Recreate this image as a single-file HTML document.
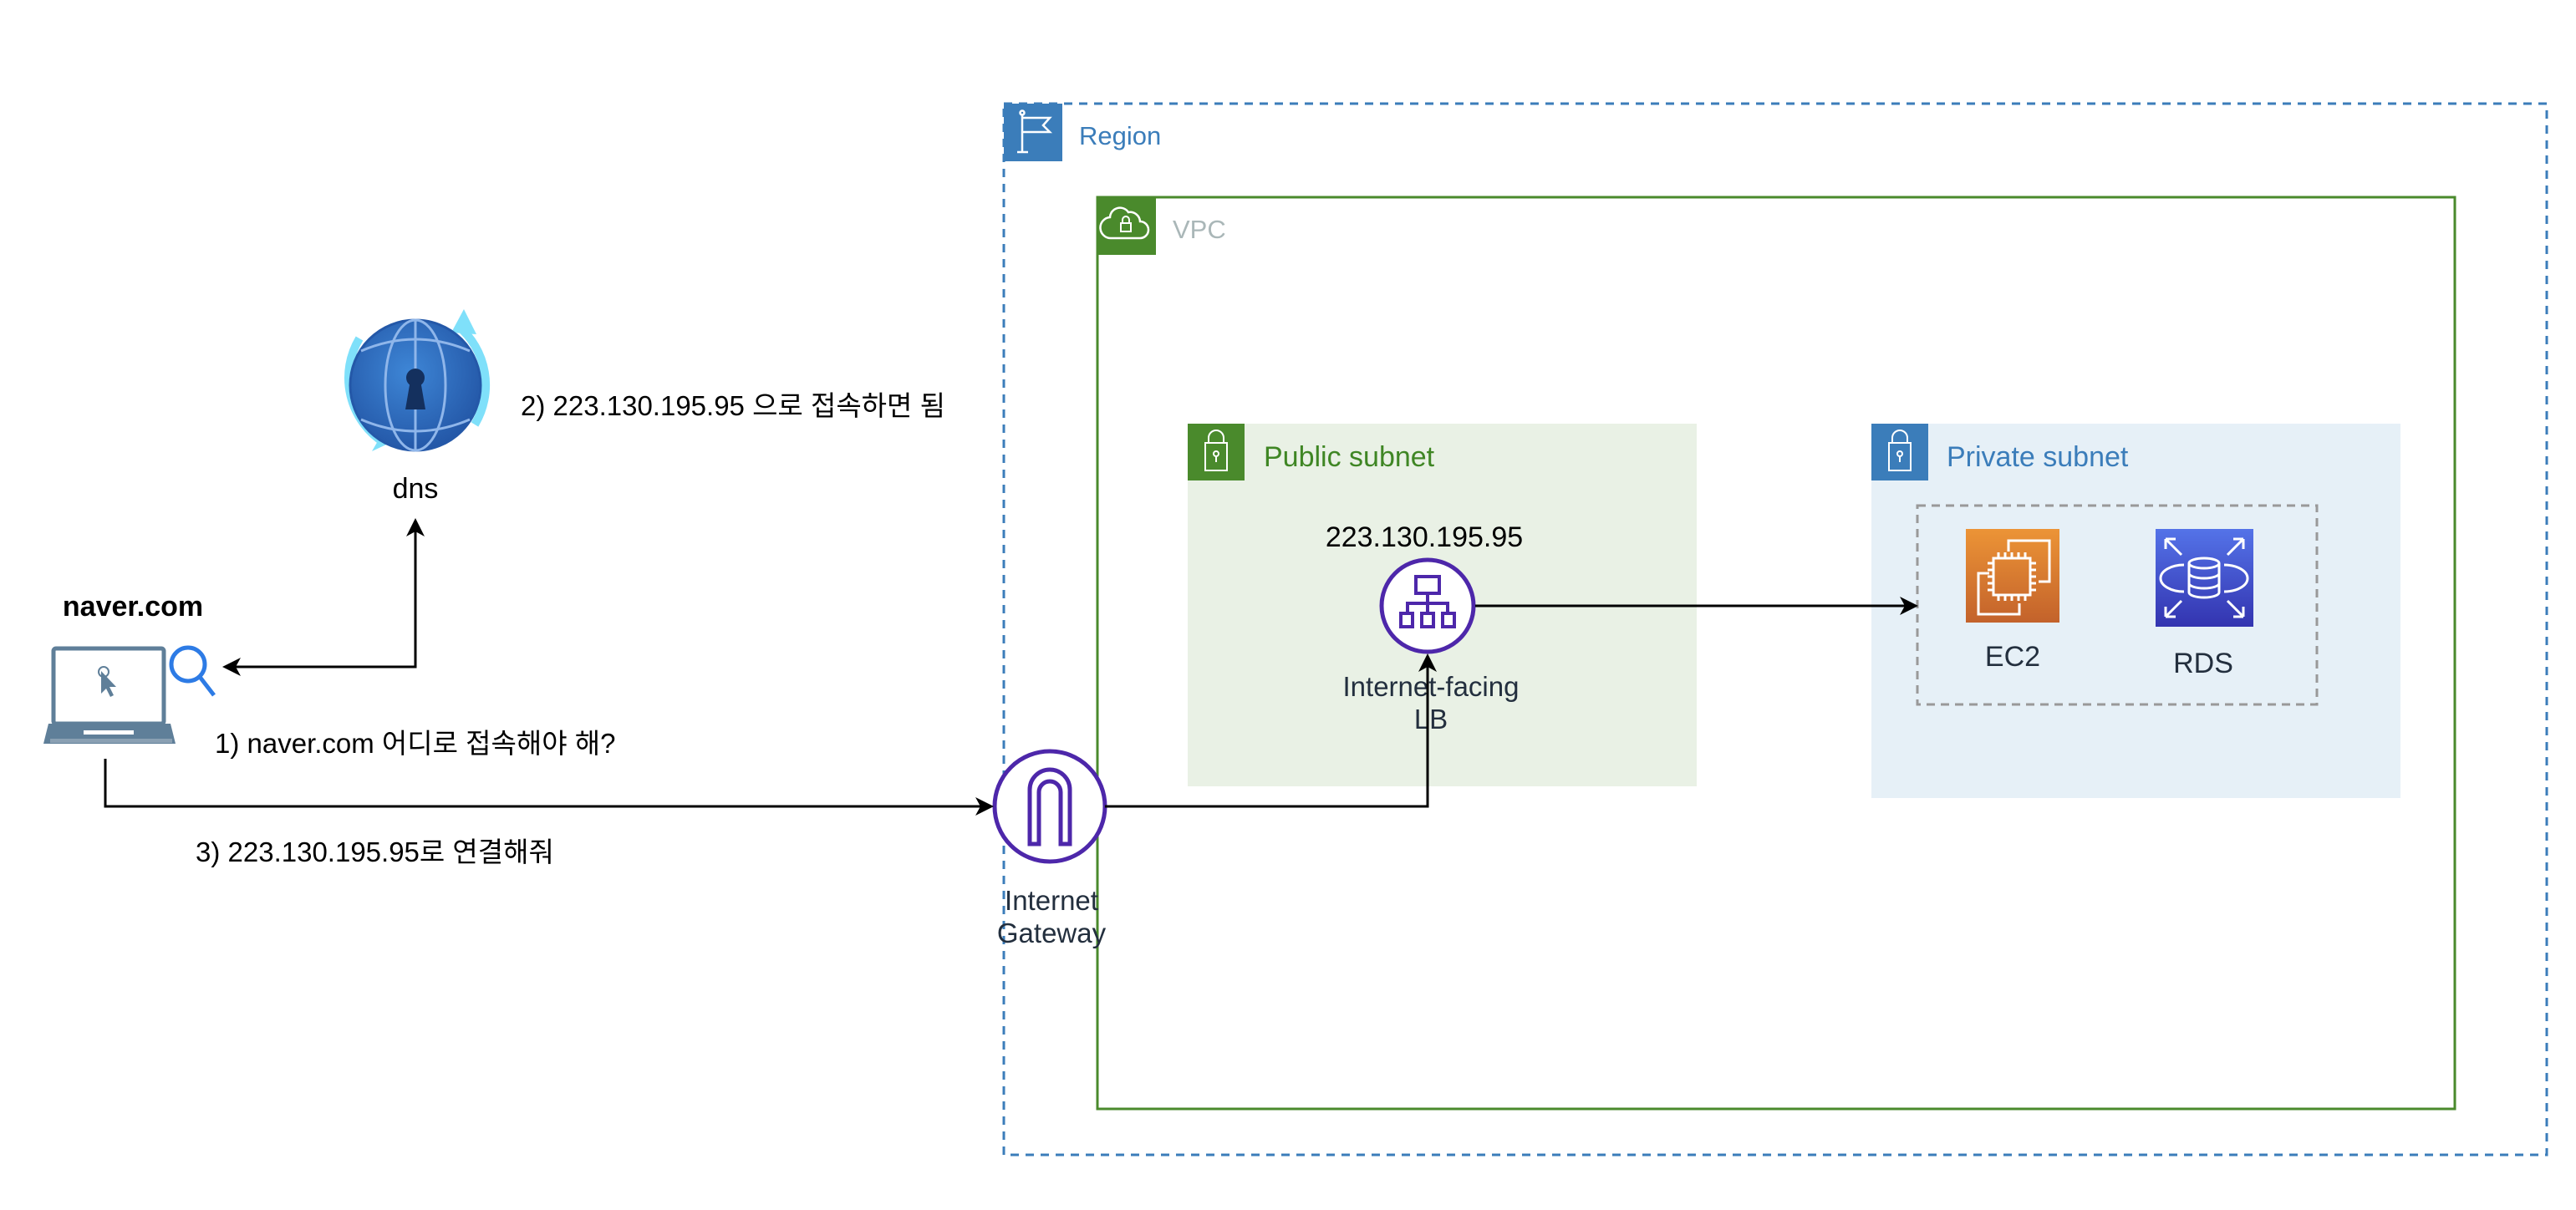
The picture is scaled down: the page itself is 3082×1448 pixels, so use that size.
<!DOCTYPE html>
<html><head><meta charset="utf-8"><style>
html,body{margin:0;padding:0;background:#fff;}
svg{display:block;}
text{font-family:"Liberation Sans","Noto Sans CJK KR",sans-serif;}
</style></head><body>
<svg width="3082" height="1448" viewBox="0 0 3082 1448" xmlns="http://www.w3.org/2000/svg">
<defs>
<linearGradient id="ec2g" x1="0" y1="0" x2="0" y2="1"><stop offset="0" stop-color="#EC9436"/><stop offset="1" stop-color="#C3622B"/></linearGradient>
<linearGradient id="rdsg" x1="0" y1="0" x2="0" y2="1"><stop offset="0" stop-color="#5473E8"/><stop offset="1" stop-color="#3334B0"/></linearGradient>
<radialGradient id="globe" cx="0.45" cy="0.4" r="0.6"><stop offset="0" stop-color="#3E86D6"/><stop offset="1" stop-color="#2458A8"/></radialGradient>
</defs>

<!-- Region -->
<rect x="1201" y="124" width="1846" height="1258" fill="none" stroke="#3B7DBA" stroke-width="3" stroke-dasharray="10,8"/>
<rect x="1201" y="124" width="70" height="69" fill="#3B7DBA"/>
<g stroke="#fff" stroke-width="2.5" fill="none">
<line x1="1223" y1="136" x2="1223" y2="182"/><line x1="1217" y1="182" x2="1230" y2="182"/>
<path d="M1223 141 H1256 L1248 150 L1256 158 H1223"/>
<circle cx="1223" cy="135" r="2.5"/>
</g>
<text x="1291" y="173" font-size="31" fill="#3B7DBA">Region</text>

<!-- VPC -->
<rect x="1313" y="236" width="1624" height="1091" fill="none" stroke="#4A8A2C" stroke-width="3"/>
<rect x="1312" y="235" width="71" height="70" fill="#4A8A2C"/>
<path d="M1330 285 h34 a10 10 0 0 0 0 -20 a12 12 0 0 0 -14 -11 a12 12 0 0 0 -22 6 a8 8 0 0 0 2 25 z" fill="none" stroke="#fff" stroke-width="2.5"/>
<rect x="1341" y="267" width="12" height="10" fill="none" stroke="#fff" stroke-width="2"/>
<path d="M1343 267 v-4 a4 4 0 0 1 8 0 v4" fill="none" stroke="#fff" stroke-width="2"/>
<text x="1403" y="285" font-size="31" fill="#AAB7B8">VPC</text>

<!-- Public subnet -->
<rect x="1421" y="507" width="609" height="434" fill="#E9F1E5"/>
<rect x="1421" y="507" width="68" height="68" fill="#4A8A2C"/>
<rect x="1442" y="530" width="26" height="33" fill="none" stroke="#fff" stroke-width="2"/>
<path d="M1446 530 v-6 a9 9 0 0 1 18 0 v6" fill="none" stroke="#fff" stroke-width="2"/>
<circle cx="1455" cy="543" r="3" fill="none" stroke="#fff" stroke-width="2"/><line x1="1455" y1="546" x2="1455" y2="553" stroke="#fff" stroke-width="2"/>
<text x="1512" y="558" font-size="34" fill="#3F8624">Public subnet</text>

<!-- Private subnet -->
<rect x="2239" y="507" width="633" height="448" fill="#E6F0F7"/>
<rect x="2239" y="507" width="68" height="68" fill="#3B7DBA"/>
<rect x="2260" y="530" width="26" height="33" fill="none" stroke="#fff" stroke-width="2"/>
<path d="M2264 530 v-6 a9 9 0 0 1 18 0 v6" fill="none" stroke="#fff" stroke-width="2"/>
<circle cx="2273" cy="543" r="3" fill="none" stroke="#fff" stroke-width="2"/><line x1="2273" y1="546" x2="2273" y2="553" stroke="#fff" stroke-width="2"/>
<text x="2329" y="558" font-size="34" fill="#3B7DBA">Private subnet</text>

<!-- dashed group -->
<rect x="2294" y="605" width="478" height="238" fill="none" stroke="#999" stroke-width="3" stroke-dasharray="10,7"/>

<!-- EC2 -->
<rect x="2352" y="633" width="112" height="112" fill="url(#ec2g)"/>
<g stroke="#fff" stroke-width="3" fill="none">
<path d="M2403 660 v-13 h49 v49 h-13"/>
<path d="M2380 686 h-13 v49 h49 v-13"/>
<rect x="2385" y="668" width="44" height="44"/>
<path d="M2391 668v-7M2399 668v-7M2407 668v-7M2415 668v-7M2423 668v-7M2391 712v7M2399 712v7M2407 712v7M2415 712v7M2423 712v7M2385 674h-7M2385 682h-7M2385 690h-7M2385 698h-7M2385 706h-7M2429 674h7M2429 682h7M2429 690h7M2429 698h7M2429 706h7"/>
</g>
<text x="2408" y="797" font-size="34" fill="#232F3E" text-anchor="middle">EC2</text>

<!-- RDS -->
<rect x="2579" y="633" width="117" height="117" fill="url(#rdsg)"/>
<g stroke="#fff" stroke-width="3" fill="none">
<ellipse cx="2637" cy="674" rx="18" ry="6"/>
<path d="M2619 674 v35 a18 6 0 0 0 36 0 v-35"/><path d="M2619 686 a18 6 0 0 0 36 0"/><path d="M2619 698 a18 6 0 0 0 36 0"/>
<path d="M2613 676 a28 16 0 0 0 0 32"/><path d="M2661 676 a28 16 0 0 1 0 32"/>
<path d="M2591 645 l19 19 M2591 645 v12 M2591 645 h12"/>
<path d="M2684 645 l-19 19 M2684 645 v12 M2684 645 h-12"/>
<path d="M2591 738 l19 -19 M2591 738 v-12 M2591 738 h12"/>
<path d="M2684 738 l-19 -19 M2684 738 v-12 M2684 738 h-12"/>
</g>
<text x="2636" y="805" font-size="34" fill="#232F3E" text-anchor="middle">RDS</text>

<!-- LB -->
<text x="1704" y="654" font-size="34" fill="#000" text-anchor="middle">223.130.195.95</text>
<circle cx="1708" cy="725" r="55" fill="#fff" stroke="#4D27AA" stroke-width="5"/>
<g stroke="#4D27AA" stroke-width="4" fill="none">
<rect x="1694" y="690" width="28" height="20"/>
<path d="M1708 710 v12 M1684 734 v-12 h48 v12 M1708 722 v12"/>
<rect x="1676" y="734" width="14" height="16"/><rect x="1701" y="734" width="14" height="16"/><rect x="1726" y="734" width="14" height="16"/>
</g>
<text x="1712" y="833" font-size="33" fill="#232F3E" text-anchor="middle">Internet-facing</text>
<text x="1712" y="872" font-size="33" fill="#232F3E" text-anchor="middle">LB</text>

<!-- LB -> private -->
<line x1="1765" y1="725" x2="2282" y2="725" stroke="#000" stroke-width="3"/>
<path d="M2295 725 L2273 714 L2279 725 L2273 736 Z" fill="#000"/>

<!-- IGW -->
<circle cx="1256" cy="965" r="66" fill="#fff" stroke="#4D27AA" stroke-width="5"/>
<path d="M1232 1010 V945 a24 24 0 0 1 48 0 V1010 h-11 V948 a13 13 0 0 0 -26 0 V1010 z" fill="none" stroke="#4D27AA" stroke-width="5"/>
<text x="1258" y="1089" font-size="33" fill="#232F3E" text-anchor="middle">Internet</text>
<text x="1258" y="1128" font-size="33" fill="#232F3E" text-anchor="middle">Gateway</text>

<!-- IGW -> LB -->
<polyline points="1322,965 1708,965 1708,795" fill="none" stroke="#000" stroke-width="3"/>
<path d="M1708 782 L1697 804 L1708 798 L1719 804 Z" fill="#000"/>

<!-- laptop -->
<g>
<rect x="64" y="776" width="132" height="90" rx="3" fill="none" stroke="#5F7F99" stroke-width="5"/>
<rect x="72" y="783" width="116" height="76" fill="#fff"/>
<path d="M58 866 H204 L210 890 H52 Z" fill="#5F7F99"/>
<rect x="60" y="884" width="146" height="5" fill="#8aa0b3"/>
<rect x="100" y="874" width="60" height="5" fill="#fff"/>
<circle cx="124" cy="804" r="6" fill="none" stroke="#5F7F99" stroke-width="2"/>
<path d="M121 803 v27 l6 -6 l5 10 l4 -2 l-5 -10 l8 0 z" fill="#5F7F99"/>
</g>
<circle cx="225" cy="795" r="20" fill="none" stroke="#2D7BE5" stroke-width="5"/>
<line x1="239" y1="810" x2="256" y2="832" stroke="#2D7BE5" stroke-width="5"/>
<text x="159" y="737" font-size="34" font-weight="bold" fill="#000" text-anchor="middle">naver.com</text>

<!-- DNS globe -->
<path d="M430 405 a92 92 0 0 0 30 125" fill="none" stroke="#7FE0FA" stroke-width="10"/>
<path d="M568 508 a92 92 0 0 0 -20 -118" fill="none" stroke="#7FE0FA" stroke-width="10"/>
<path d="M445 540 L475 526 L468 500 Z" fill="#7FE0FA"/>
<path d="M555 370 L570 400 L540 398 Z" fill="#7FE0FA"/>
<circle cx="497" cy="461" r="78" fill="url(#globe)" stroke="#2458A8" stroke-width="3"/>
<g fill="none" stroke="#8FB6EA" stroke-width="3">
<ellipse cx="497" cy="461" rx="36" ry="78"/>
<line x1="497" y1="383" x2="497" y2="539"/>
<path d="M432 420 q65 -28 130 0"/><path d="M432 502 q65 28 130 0"/>
</g>
<circle cx="497" cy="452" r="11" fill="#14305E"/>
<path d="M491 455 L485 490 H509 L503 455 Z" fill="#14305E"/>
<text x="497" y="596" font-size="34" fill="#000" text-anchor="middle">dns</text>

<!-- dns <-> laptop -->
<polyline points="497,633 497,798 280,798" fill="none" stroke="#000" stroke-width="3"/>
<path d="M497 620 L486 642 L497 636 L508 642 Z" fill="#000"/>
<path d="M266 798 L288 787 L282 798 L288 809 Z" fill="#000"/>

<!-- laptop -> IGW -->
<polyline points="126,908 126,965 1176,965" fill="none" stroke="#000" stroke-width="3"/>
<path d="M1189 965 L1167 954 L1173 965 L1167 976 Z" fill="#000"/>

<!-- labels -->
<text x="623" y="497" font-size="33" fill="#000">2) 223.130.195.95 으로 접속하면 됨</text>
<text x="257" y="901" font-size="33" fill="#000">1) naver.com 어디로 접속해야 해?</text>
<text x="234" y="1031" font-size="33" fill="#000">3) 223.130.195.95로 연결해줘</text>
</svg>
</body></html>
